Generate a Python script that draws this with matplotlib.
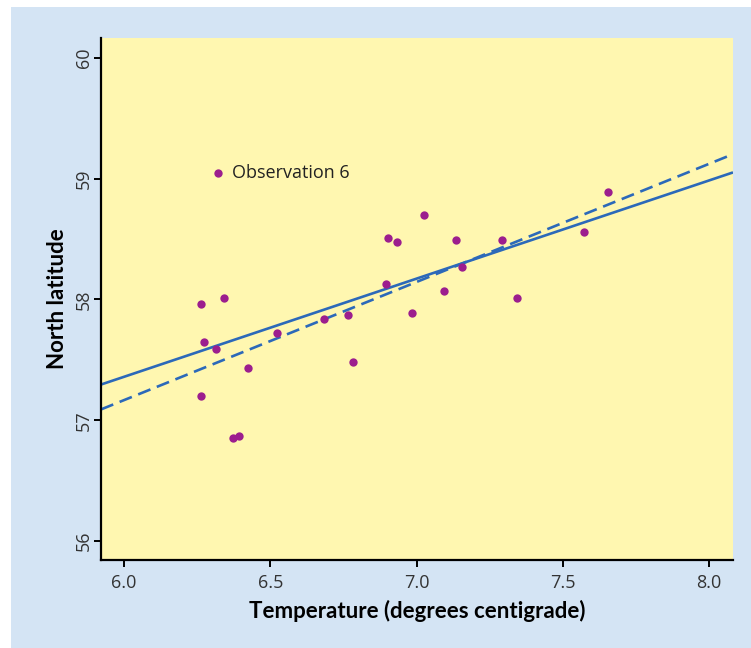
import numpy as np
import matplotlib.pyplot as plt
from matplotlib.patches import Rectangle

# Mean temperature (deg C) and latitude (deg N) for each station
temperature = [6.322, 6.262, 6.342, 6.273, 6.314, 6.262, 6.422, 6.372, 6.393,
               6.524, 6.682, 6.764, 6.784, 6.894, 6.904, 6.934, 6.983, 7.024,
               7.093, 7.135, 7.154, 7.293, 7.344, 7.572, 7.654]
latitude = [59.05, 57.96, 58.01, 57.65, 57.59, 57.20, 57.43, 56.85, 56.87,
            57.72, 57.84, 57.87, 57.48, 58.13, 58.51, 58.48, 57.89, 58.70,
            58.07, 58.49, 58.27, 58.49, 58.01, 58.56, 58.89]
outlier_index = 0
outlier_label = "Observation 6"

x_ticks = [6.0, 6.5, 7.0, 7.5, 8.0]
y_ticks = [56, 57, 58, 59, 60]

x = np.array(temperature)
y = np.array(latitude)
keep = np.arange(len(x)) != outlier_index
fit_all = np.polyfit(x, y, 1)
fit_wo = np.polyfit(x[keep], y[keep], 1)

W, H = 751, 648
fig = plt.figure(figsize=(W / 100, H / 100), dpi=100)
fig.patch.set_facecolor("white")
panel = Rectangle((11 / W, 0), 1 - 11 / W, 1 - 7 / H,
                  transform=fig.transFigure, facecolor="#D4E4F4",
                  edgecolor="none", zorder=-10)
fig.add_artist(panel)

ax = fig.add_axes([101 / W, 1 - 560 / H, (733 - 101) / W, (560 - 38) / H])
ax.set_zorder(5)
ax.set_facecolor("#FFF7B0")
xlim = (5.921, 8.082)
ax.set_xlim(*xlim)
ax.set_ylim(55.843, 60.165)

for s in ("top", "right"):
    ax.spines[s].set_visible(False)
for s in ("left", "bottom"):
    ax.spines[s].set_linewidth(1.6)
    ax.spines[s].set_color("black")

xx = np.array(xlim)
blue = "#2C69B9"
ax.plot(xx, np.polyval(fit_all, xx), color=blue, lw=1.9, solid_capstyle="butt")
ax.plot(xx, np.polyval(fit_wo, xx), color=blue, lw=1.9, dashes=(5, 2.6))

ax.plot(x, y, "o", color="#9C1E8E", markersize=6, markeredgewidth=0, zorder=3)
ax.annotate(outlier_label, (x[outlier_index], y[outlier_index]),
            xytext=(10, 0), textcoords="offset points", va="center", ha="left",
            fontsize=13, color="#222222", family="Open Sans")

ax.set_xticks(x_ticks)
ax.set_xticklabels([f"{v:.1f}" for v in x_ticks])
ax.set_yticks(y_ticks)
ax.set_yticklabels([str(v) for v in y_ticks], rotation=90, va="center")
ax.tick_params(direction="out", length=5, width=1.4, labelsize=13,
               labelcolor="#333333")
ax.tick_params(axis="x", pad=5)
ax.tick_params(axis="y", pad=1)
for lab in ax.get_xticklabels() + ax.get_yticklabels():
    lab.set_family("Open Sans")

ax.set_xlabel("Temperature (degrees centigrade)", fontsize=16, fontweight="bold",
              family="Lato", labelpad=6)
ax.set_ylabel("North latitude", fontsize=16, fontweight="bold",
              family="Lato", labelpad=5)

fig.savefig("out.png", dpi=100, facecolor=fig.get_facecolor())
